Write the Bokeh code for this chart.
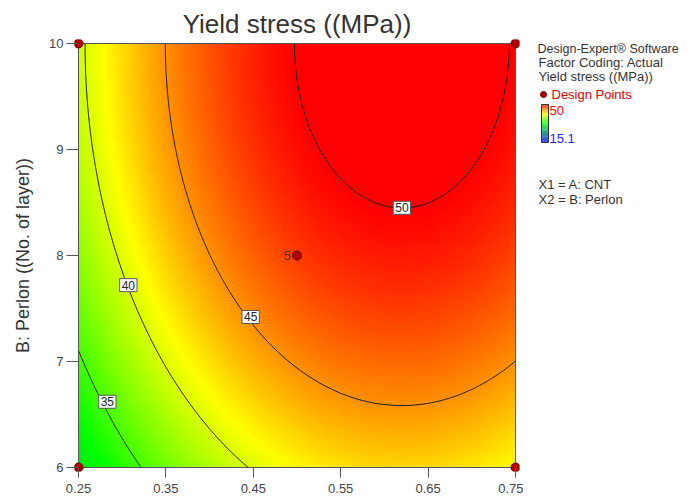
import numpy as np
from bokeh.plotting import figure
from bokeh.models import Range1d, FixedTicker, LinearColorMapper
from bokeh.layouts import row
from bokeh.embed import file_html
from bokeh.resources import INLINE
from bokeh.core.properties import value

# ---------------- data ----------------
title_text = "Yield stress ((MPa))"
y_label = "B: Perlon ((No. of layer))"
cnt_range = [0.25, 0.75]
perlon_range = [6, 10]
x_ticks = [0.25, 0.35, 0.45, 0.55, 0.65, 0.75]
y_ticks = [6, 7, 8, 9, 10]

design_x = [0.25, 0.25, 0.75, 0.75, 0.5]
design_y = [6, 10, 6, 10, 8]
center_runs = ["5"]

# quadratic response-surface model (estimated from the contours)
model_peak = 51.3
model_cnt_opt = 0.62
model_perlon_opt = 10.0
model_cnt_curv = 86.0
model_perlon_curv = 0.54

contour_levels = [35, 40, 45, 50]
contour_label_x = [0.283, 0.307, 0.447, 0.62]
contour_label_y = [6.62, 7.72, 7.42, 8.45]

color_low, color_high = 15.1, 50.0

legend_lines = ["Design-Expert\u00ae Software", "Factor Coding: Actual", "Yield stress ((MPa))"]
factor_lines = ["X1 = A: CNT", "X2 = B: Perlon"]

FONT = "Liberation Sans"

# ---------------- colour scale ----------------
stops = [0.0, 0.5, 0.75, 1.0]
stop_rgb = np.array([(0, 0, 255), (0, 255, 0), (255, 255, 0), (255, 0, 0)], float)
palette = []
for t in np.linspace(0, 1, 256):
    r = np.interp(t, stops, stop_rgb[:, 0])
    g = np.interp(t, stops, stop_rgb[:, 1])
    b = np.interp(t, stops, stop_rgb[:, 2])
    palette.append("#%02x%02x%02x" % (int(round(r)), int(round(g)), int(round(b))))
mapper = LinearColorMapper(palette=palette, low=color_low, high=color_high)

# ---------------- surface ----------------
gx = np.linspace(cnt_range[0], cnt_range[1], 220)
gy = np.linspace(perlon_range[0], perlon_range[1], 220)
XX, YY = np.meshgrid(gx, gy)
ZZ = (model_peak - model_cnt_curv * (XX - model_cnt_opt) ** 2
      - model_perlon_curv * (YY - model_perlon_opt) ** 2)

# ---------------- layout geometry (pixels) ----------------
W, H = 523, 498
BOX_W, BOX_H = 437, 424          # data box size
PAD = 4                          # frame padding so corner points are not clipped
FL, FT = 74, 39                  # frame left / top
FB = H - FT - BOX_H - 2 * PAD    # bottom border
FR = W - FL - BOX_W - 2 * PAD    # right border
dx = (cnt_range[1] - cnt_range[0]) / BOX_W * PAD
dy = (perlon_range[1] - perlon_range[0]) / BOX_H * PAD

p = figure(width=W, height=H,
           x_range=Range1d(cnt_range[0] - dx, cnt_range[1] + dx),
           y_range=Range1d(perlon_range[0] - dy, perlon_range[1] + dy),
           output_backend="svg", toolbar_location=None, title=title_text,
           min_border_left=FL, min_border_right=FR, min_border_top=FT, min_border_bottom=FB)
p.title.align = "center"
p.title.text_font = FONT
p.title.text_font_size = "26px"
p.title.text_font_style = "normal"
p.title.text_color = "#333333"
p.title.standoff = 2

p.image(image=[ZZ], x=cnt_range[0], y=perlon_range[0],
        dw=cnt_range[1] - cnt_range[0], dh=perlon_range[1] - perlon_range[0],
        color_mapper=mapper)
p.contour(XX, YY, ZZ, levels=contour_levels, line_color="#1a1a1a", line_width=1)
p.quad(left=[cnt_range[0]], right=[cnt_range[1]], bottom=[perlon_range[0]], top=[perlon_range[1]],
       fill_color=None, line_color="#555555", line_width=1)

p.text(x=contour_label_x, y=contour_label_y, text=[str(v) for v in contour_levels],
       text_align="center", text_baseline="middle", text_font=value(FONT),
       text_font_size="12px", text_color="#222222",
       background_fill_color="white", border_line_color="#555555", padding=2)

p.scatter(design_x, design_y, size=9, fill_color="#b00000", line_color="#6a0000")
p.text(x=[design_x[4]], y=[design_y[4]], text=center_runs, x_offset=-6,
       text_align="right", text_baseline="middle", text_font=value(FONT),
       text_font_size="13px", text_color="#5a2a00")

p.grid.visible = False
p.outline_line_color = None
p.xaxis.ticker = FixedTicker(ticks=x_ticks, minor_ticks=[])
p.yaxis.ticker = FixedTicker(ticks=y_ticks, minor_ticks=[])
for ax in (p.xaxis[0], p.yaxis[0]):
    ax.major_tick_in = PAD
    ax.major_tick_line_color = "#555555"
    ax.axis_line_color = None
    ax.major_label_text_font = FONT
    ax.major_label_text_font_size = "13px"
    ax.major_label_text_color = "#444444"
p.xaxis.major_tick_out = 6
p.xaxis.major_label_standoff = 6
p.yaxis.major_tick_out = 8
p.yaxis.major_label_standoff = 3
p.yaxis.axis_label = y_label
p.yaxis.axis_label_text_font = FONT
p.yaxis.axis_label_text_font_size = "18px"
p.yaxis.axis_label_text_font_style = "normal"
p.yaxis.axis_label_text_color = "#333333"
p.yaxis.axis_label_standoff = 13

# ---------------- side panel (coordinates in page pixels) ----------------
SW = 160
frame_top = FT
frame_bot = H - FB
s = figure(width=SW, height=H, x_range=Range1d(W, W + SW), y_range=Range1d(frame_bot, frame_top),
           output_backend="svg", toolbar_location=None,
           x_axis_location=None, y_axis_location=None,
           min_border_left=0, min_border_right=0, min_border_top=FT, min_border_bottom=FB)
s.grid.visible = False
s.outline_line_color = None

s.text(x=[537], y=[48], text=legend_lines[:1], text_baseline="middle",
       text_font=value(FONT), text_font_size="12.5px", text_color="#333333")
s.text(x=[538, 538], y=[62, 76], text=legend_lines[1:], text_baseline="middle",
       text_font=value(FONT), text_font_size="13px", text_color="#333333")
s.scatter([543], [94], size=6, fill_color="#b00000", line_color="#6a0000")
s.text(x=[551], y=[94], text=["Design Points"], text_baseline="middle",
       text_font=value(FONT), text_font_size="13px", text_color="#e00000")
nb = 60
vals = np.linspace(color_low, color_high, nb + 1)
bar_top, bar_bot = 104.0, 142.0
edges = bar_bot - (vals - color_low) / (color_high - color_low) * (bar_bot - bar_top)
cols = [palette[int(round((k + 0.5) / nb * 255))] for k in range(nb)]
s.quad(left=541, right=548, top=edges[1:], bottom=edges[:-1], fill_color=cols, line_color=None)
s.quad(left=[541], right=[548], top=[bar_top], bottom=[bar_bot], fill_color=None, line_color="#333333")
s.text(x=[549, 549], y=[110, 138], text=["%g" % color_high, "%g" % color_low],
       text_baseline="middle", text_font=value(FONT), text_font_size="13px",
       text_color=["#ff0000", "#2020ff"])
s.text(x=[538, 538], y=[184, 199], text=factor_lines, text_baseline="middle",
       text_font=value(FONT), text_font_size="13px", text_color="#333333")

layout = row(p, s)
open("out.html", "w").write(file_html(layout, INLINE))
